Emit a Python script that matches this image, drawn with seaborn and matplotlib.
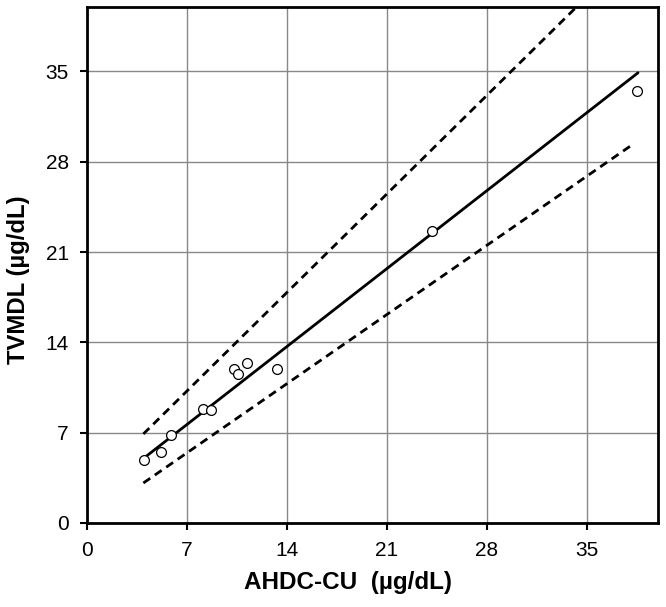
import numpy as np
import pandas as pd
import matplotlib
matplotlib.use("Agg")
import matplotlib.pyplot as plt
import seaborn as sns

# measured pairs
ahdc_cu = [3.99, 5.16, 5.92, 8.10, 8.68, 10.3, 10.6, 11.2, 13.3, 24.2, 38.5]
tvmdl = [4.92, 5.51, 6.80, 8.86, 8.78, 11.95, 11.57, 12.39, 11.97, 22.6, 33.5]

# regression line and limits (end points)
line_x = [3.95, 38.6]
fit_y = [5.0, 34.9]
upper_y = [6.9, 44.7]
lower_x = [3.95, 38.3]
lower_y = [3.1, 29.4]

ticks = [0, 7, 14, 21, 28, 35]

sns.set_style("white")
plt.rcParams['font.family'] = ['Liberation Sans', 'DejaVu Sans']

fig = plt.figure(figsize=(6.66, 6.07), dpi=100)
ax = fig.add_axes([0.1306, 0.1384, 0.8574, 0.8501])

sns.lineplot(x=line_x, y=fit_y, ax=ax, color='black', linewidth=2.0)
sns.lineplot(x=line_x, y=upper_y, ax=ax, color='black', linewidth=2.0, linestyle=(0, (3, 2)))
sns.lineplot(x=lower_x, y=lower_y, ax=ax, color='black', linewidth=2.0, linestyle=(0, (3, 2)))
sns.scatterplot(x=ahdc_cu, y=tvmdl, ax=ax, marker='o', s=50, facecolor='white',
                edgecolor='black', linewidth=0.9, zorder=3)

ax.set_xlim(0, 40)
ax.set_ylim(0, 40)
ax.set_xticks(ticks)
ax.set_yticks(ticks)
ax.grid(True, color='#888888', linewidth=1.0)
ax.set_axisbelow(True)
for side in ax.spines.values():
    side.set_color('black')
    side.set_linewidth(2.0)
ax.tick_params(axis='both', direction='out', length=5, width=1.5, color='black',
               labelsize=15, labelcolor='black', bottom=True, left=True, pad=8)

ax.set_xlabel('AHDC-CU  (µg/dL)', fontsize=17.5, fontweight='bold', color='black', labelpad=8)
ax.set_ylabel('TVMDL (µg/dL)', fontsize=17.2, fontweight='bold', color='black', labelpad=11)
ax.xaxis.label.set_x(0.457)
ax.yaxis.label.set_y(0.471)

fig.savefig('out.png', dpi=100)
